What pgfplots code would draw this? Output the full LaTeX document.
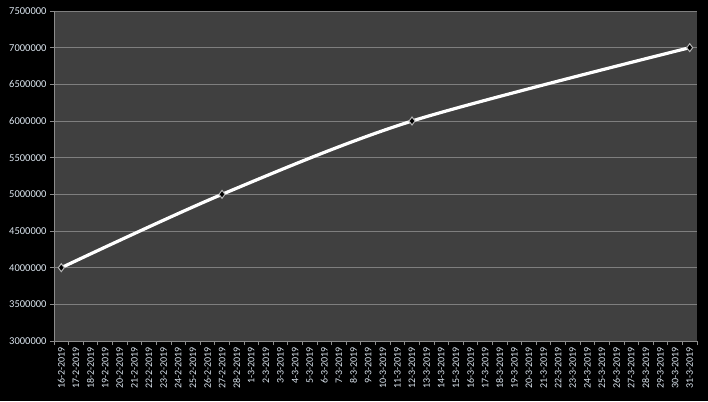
\documentclass[border=0pt]{standalone}
\usepackage{pgfplots}
\pgfplotsset{compat=1.18}
\usepackage{fontspec}
\setmainfont{Carlito}
\definecolor{plotbg}{HTML}{404040}
\definecolor{gridc}{HTML}{7F7F7F}
\definecolor{axisc}{HTML}{8C8C8C}
\definecolor{labc}{HTML}{DCE6F0}
\begin{document}
\begin{tikzpicture}
\fill[black] (0,0) rectangle (708pt,401pt);
\useasboundingbox (0,0) rectangle (708pt,401pt);
\begin{axis}[
  at={(54pt,60pt)}, anchor=south west,
  scale only axis, width=643pt, height=330pt,
  xmin=-0.5, xmax=43.5,
  ymin=3000000, ymax=7500000,
  ytick={3000000,3500000,4000000,4500000,5000000,5500000,6000000,6500000,7000000,7500000},
  scaled y ticks=false,
  /pgf/number format/fixed,
  /pgf/number format/1000 sep={},
  /pgf/number format/assume math mode=true,
  axis background/.style={fill=plotbg},
  axis x line*=bottom, axis y line*=left,
  axis line style={axisc, line width=0.8pt, -},
  ymajorgrids,
  major grid style={gridc, line width=0.8pt},
  tick align=outside,
  major tick length=4pt,
  minor tick length=4pt,
  every tick/.style={axisc, line width=0.8pt},
  xtick={0,...,43},
  major x tick style={draw=none},
  minor xtick={-0.5,0.5,...,43.5},
  xticklabels={16-2-2019,17-2-2019,18-2-2019,19-2-2019,20-2-2019,21-2-2019,22-2-2019,23-2-2019,24-2-2019,25-2-2019,26-2-2019,27-2-2019,28-2-2019,1-3-2019,2-3-2019,3-3-2019,4-3-2019,5-3-2019,6-3-2019,7-3-2019,8-3-2019,9-3-2019,10-3-2019,11-3-2019,12-3-2019,13-3-2019,14-3-2019,15-3-2019,16-3-2019,17-3-2019,18-3-2019,19-3-2019,20-3-2019,21-3-2019,22-3-2019,23-3-2019,24-3-2019,25-3-2019,26-3-2019,27-3-2019,28-3-2019,29-3-2019,30-3-2019,31-3-2019},
  x tick label style={rotate=90, anchor=east, font=\fontsize{10}{11}\selectfont, text=labc, inner sep=2pt},
  y tick label style={font=\fontsize{10.5}{12}\selectfont, text=labc},
  clip=false,
]
\addplot[white, line width=3.2pt, smooth, tension=0.5,
  mark=diamond*, mark size=4pt,
  mark options={fill=black, draw=gray!60!white, line width=1pt, solid}]
  coordinates {(0,4000000) (11,5000000) (24,6000000) (43,7000000)};
\end{axis}
\end{tikzpicture}
\end{document}
